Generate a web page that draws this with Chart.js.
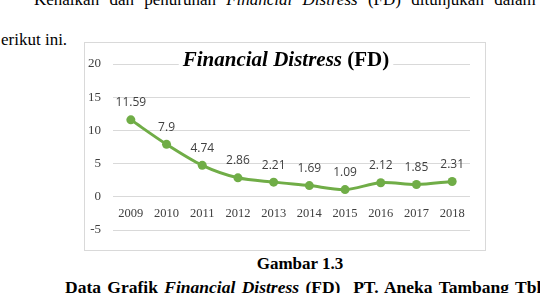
<!DOCTYPE html>
<html>
<head>
<meta charset="utf-8">
<script src="https://cdn.jsdelivr.net/npm/chart.js@4/dist/chart.umd.min.js"></script>
<style>
  html, body { margin: 0; padding: 0; background: #fff; }
  #page { position: relative; width: 540px; height: 293px; overflow: hidden; font-family: "Liberation Serif", "Times New Roman", serif; color: #000; }
  .txt { position: absolute; font-size: 17px; line-height: 17px; white-space: nowrap; }
  #box { position: absolute; left: 84px; top: 42px; width: 400px; height: 207px; border: 1px solid #d9d9d9; background: #fff; }
  #box canvas { position: absolute; left: 0; top: 0; }
</style>
</head>
<body>
<div id="page">
  <div class="txt" style="left:34px; top:-9px; word-spacing:6px;">Kenaikan dan penurunan <i>Financial Distress</i> (FD) ditunjukan dalam</div>
  <div class="txt" style="left:1px; top:31px;">erikut ini.</div>
  <div id="box"><canvas id="fd-chart" width="400" height="207"></canvas></div>
  <div class="txt" style="left:0; width:600px; text-align:center; top:255px; font-weight:bold;">Gambar 1.3</div>
  <div class="txt" style="left:65px; top:279px; font-weight:bold; font-size:17.5px; word-spacing:2px;">Data Grafik <i>Financial Distress</i> (FD)&nbsp; PT. Aneka Tambang Tbk</div>
</div>
<script>
const years = ["2009", "2010", "2011", "2012", "2013", "2014", "2015", "2016", "2017", "2018"]
const fdValues = [11.59, 7.9, 4.74, 2.86, 2.21, 1.69, 1.09, 2.12, 1.85, 2.31]
const yTicks = [-5, 0, 5, 10, 15, 20]
const lineColor = "#70ad47"
const serif = "'Liberation Serif', 'Times New Roman', 'DejaVu Serif', serif"

// title with mixed italic / upright parts, white box behind it like excel
const titlePlugin = {
  id: "mixedTitle",
  afterDraw: (chart) => {
    const ctx = chart.ctx
    const partA = "Financial Distress"
    const partB = " (FD)"
    const fontA = "italic bold 21px " + serif
    const fontB = "bold 21px " + serif
    ctx.save()
    ctx.font = fontA
    const wA = ctx.measureText(partA).width
    ctx.font = fontB
    const wB = ctx.measureText(partB).width
    const cx = 201
    const baseline = 23
    const x0 = cx - (wA + wB) / 2
    ctx.fillStyle = "#fff"
    ctx.fillRect(x0 - 4, baseline - 18, wA + wB + 8, 23)
    ctx.fillStyle = "#000"
    ctx.textBaseline = "alphabetic"
    ctx.textAlign = "left"
    ctx.font = fontA
    ctx.fillText(partA, x0, baseline)
    ctx.font = fontB
    ctx.fillText(partB, x0 + wA, baseline)
    ctx.restore()
  }
}

// value labels above each point
const valueLabels = {
  id: "valueLabels",
  afterDatasetsDraw: (chart) => {
    const ctx = chart.ctx
    const meta = chart.getDatasetMeta(0)
    ctx.save()
    ctx.font = "12px 'Open Sans'"
    ctx.fillStyle = "#404040"
    ctx.textAlign = "center"
    ctx.textBaseline = "middle"
    meta.data.forEach((pt, i) => {
      ctx.fillText(String(fdValues[i]), pt.x, pt.y - 17)
    })
    ctx.restore()
  }
}

const drawChart = () => {
  const ctx = document.getElementById("fd-chart").getContext("2d")
  new Chart(ctx, {
    type: "line",
    data: {
      labels: years,
      datasets: [{
        data: fdValues,
        borderColor: lineColor,
        backgroundColor: lineColor,
        borderWidth: 3,
        pointRadius: 4.5,
        pointBorderWidth: 0,
        pointBackgroundColor: lineColor,
        tension: 0.3,
        fill: false
      }]
    },
    options: {
      responsive: false,
      animation: false,
      layout: { padding: { top: 21, bottom: 20, right: 15, left: 0 } },
      plugins: {
        legend: { display: false },
        title: { display: false },
        tooltip: { enabled: false }
      },
      scales: {
        x: {
          position: { y: 0 },
          offset: true,
          grid: { display: false, drawTicks: false },
          border: { display: false },
          ticks: {
            padding: 9,
            color: "#404040",
            font: { family: serif, size: 12.5 },
            maxRotation: 0,
            autoSkip: false
          }
        },
        y: {
          min: yTicks[0],
          max: yTicks[yTicks.length - 1],
          afterBuildTicks: (scale) => { scale.ticks = yTicks.map(v => ({ value: v })) },
          afterFit: (scale) => { scale.width = 28 },
          grid: { color: "#d9d9d9", lineWidth: 1, drawTicks: false },
          border: { display: false },
          ticks: {
            padding: 12,
            color: "#404040",
            font: { family: serif, size: 13 }
          }
        }
      }
    },
    plugins: [titlePlugin, valueLabels]
  })
}

// canvas text needs the fonts ready first
Promise.all([
  document.fonts.load("13px 'Liberation Serif'"),
  document.fonts.load("bold 21px 'Liberation Serif'"),
  document.fonts.load("italic bold 21px 'Liberation Serif'"),
  document.fonts.load("12px 'Open Sans'")
]).then(drawChart, drawChart)
</script>
</body>
</html>
